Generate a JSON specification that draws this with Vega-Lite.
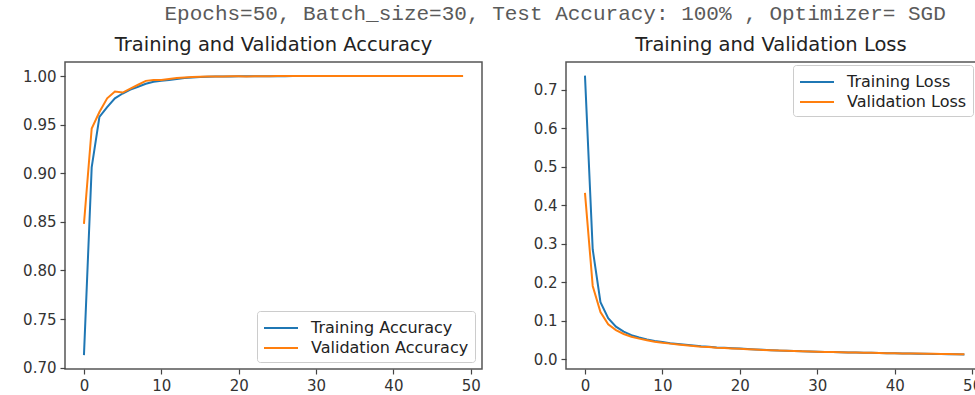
{
  "$schema": "https://vega.github.io/schema/vega-lite/v6.json",
  "padding": {"left": 21, "top": 2, "right": 0, "bottom": 0},
  "background": "white",
  "title": {"text": "Epochs=50, Batch_size=30, Test Accuracy: 100% , Optimizer= SGD", "font": "Liberation Mono", "fontSize": 21, "fontWeight": "normal", "color": "#5a5a5a", "anchor": "middle", "dx": 53, "offset": 10},
  "datasets": {
    "acc": [
      {"epoch":0,"series":"Training Accuracy","value":0.713},{"epoch":1,"series":"Training Accuracy","value":0.906},{"epoch":2,"series":"Training Accuracy","value":0.958},{"epoch":3,"series":"Training Accuracy","value":0.968},{"epoch":4,"series":"Training Accuracy","value":0.977},{"epoch":5,"series":"Training Accuracy","value":0.982},{"epoch":6,"series":"Training Accuracy","value":0.986},{"epoch":7,"series":"Training Accuracy","value":0.989},{"epoch":8,"series":"Training Accuracy","value":0.992},{"epoch":9,"series":"Training Accuracy","value":0.994},
      {"epoch":10,"series":"Training Accuracy","value":0.995},{"epoch":11,"series":"Training Accuracy","value":0.996},{"epoch":12,"series":"Training Accuracy","value":0.997},{"epoch":13,"series":"Training Accuracy","value":0.998},{"epoch":14,"series":"Training Accuracy","value":0.9985},{"epoch":15,"series":"Training Accuracy","value":0.999},{"epoch":16,"series":"Training Accuracy","value":0.9992},{"epoch":17,"series":"Training Accuracy","value":0.9994},{"epoch":18,"series":"Training Accuracy","value":0.9995},{"epoch":19,"series":"Training Accuracy","value":0.9996},
      {"epoch":20,"series":"Training Accuracy","value":0.9997},{"epoch":21,"series":"Training Accuracy","value":0.9998},{"epoch":22,"series":"Training Accuracy","value":0.9998},{"epoch":23,"series":"Training Accuracy","value":0.9998},{"epoch":24,"series":"Training Accuracy","value":0.9998},{"epoch":25,"series":"Training Accuracy","value":0.9998},{"epoch":26,"series":"Training Accuracy","value":0.9998},{"epoch":27,"series":"Training Accuracy","value":0.9999},{"epoch":28,"series":"Training Accuracy","value":0.9999},{"epoch":29,"series":"Training Accuracy","value":0.9999},
      {"epoch":30,"series":"Training Accuracy","value":0.9999},{"epoch":31,"series":"Training Accuracy","value":0.9999},{"epoch":32,"series":"Training Accuracy","value":0.9999},{"epoch":33,"series":"Training Accuracy","value":0.9999},{"epoch":34,"series":"Training Accuracy","value":0.9999},{"epoch":35,"series":"Training Accuracy","value":1.0},{"epoch":36,"series":"Training Accuracy","value":1.0},{"epoch":37,"series":"Training Accuracy","value":1.0},{"epoch":38,"series":"Training Accuracy","value":1.0},{"epoch":39,"series":"Training Accuracy","value":1.0},
      {"epoch":40,"series":"Training Accuracy","value":1.0},{"epoch":41,"series":"Training Accuracy","value":1.0},{"epoch":42,"series":"Training Accuracy","value":1.0},{"epoch":43,"series":"Training Accuracy","value":1.0},{"epoch":44,"series":"Training Accuracy","value":1.0},{"epoch":45,"series":"Training Accuracy","value":1.0},{"epoch":46,"series":"Training Accuracy","value":1.0},{"epoch":47,"series":"Training Accuracy","value":1.0},{"epoch":48,"series":"Training Accuracy","value":1.0},{"epoch":49,"series":"Training Accuracy","value":1.0},
      {"epoch":0,"series":"Validation Accuracy","value":0.848},{"epoch":1,"series":"Validation Accuracy","value":0.946},{"epoch":2,"series":"Validation Accuracy","value":0.963},{"epoch":3,"series":"Validation Accuracy","value":0.977},{"epoch":4,"series":"Validation Accuracy","value":0.984},{"epoch":5,"series":"Validation Accuracy","value":0.983},{"epoch":6,"series":"Validation Accuracy","value":0.987},{"epoch":7,"series":"Validation Accuracy","value":0.991},{"epoch":8,"series":"Validation Accuracy","value":0.995},{"epoch":9,"series":"Validation Accuracy","value":0.996},
      {"epoch":10,"series":"Validation Accuracy","value":0.996},{"epoch":11,"series":"Validation Accuracy","value":0.997},{"epoch":12,"series":"Validation Accuracy","value":0.998},{"epoch":13,"series":"Validation Accuracy","value":0.9985},{"epoch":14,"series":"Validation Accuracy","value":0.999},{"epoch":15,"series":"Validation Accuracy","value":0.9992},{"epoch":16,"series":"Validation Accuracy","value":0.9994},{"epoch":17,"series":"Validation Accuracy","value":0.9995},{"epoch":18,"series":"Validation Accuracy","value":0.9996},{"epoch":19,"series":"Validation Accuracy","value":0.9997},
      {"epoch":20,"series":"Validation Accuracy","value":0.9998},{"epoch":21,"series":"Validation Accuracy","value":0.9996},{"epoch":22,"series":"Validation Accuracy","value":0.9998},{"epoch":23,"series":"Validation Accuracy","value":0.9997},{"epoch":24,"series":"Validation Accuracy","value":0.9998},{"epoch":25,"series":"Validation Accuracy","value":0.9999},{"epoch":26,"series":"Validation Accuracy","value":0.9999},{"epoch":27,"series":"Validation Accuracy","value":0.9999},{"epoch":28,"series":"Validation Accuracy","value":0.9999},{"epoch":29,"series":"Validation Accuracy","value":0.9999},
      {"epoch":30,"series":"Validation Accuracy","value":1.0},{"epoch":31,"series":"Validation Accuracy","value":1.0},{"epoch":32,"series":"Validation Accuracy","value":1.0},{"epoch":33,"series":"Validation Accuracy","value":1.0},{"epoch":34,"series":"Validation Accuracy","value":1.0},{"epoch":35,"series":"Validation Accuracy","value":1.0},{"epoch":36,"series":"Validation Accuracy","value":1.0},{"epoch":37,"series":"Validation Accuracy","value":1.0},{"epoch":38,"series":"Validation Accuracy","value":1.0},{"epoch":39,"series":"Validation Accuracy","value":1.0},
      {"epoch":40,"series":"Validation Accuracy","value":1.0},{"epoch":41,"series":"Validation Accuracy","value":1.0},{"epoch":42,"series":"Validation Accuracy","value":1.0},{"epoch":43,"series":"Validation Accuracy","value":1.0},{"epoch":44,"series":"Validation Accuracy","value":1.0},{"epoch":45,"series":"Validation Accuracy","value":1.0},{"epoch":46,"series":"Validation Accuracy","value":1.0},{"epoch":47,"series":"Validation Accuracy","value":1.0},{"epoch":48,"series":"Validation Accuracy","value":1.0},{"epoch":49,"series":"Validation Accuracy","value":1.0}
    ],
    "loss": [
      {"epoch":0,"series":"Training Loss","value":0.737},{"epoch":1,"series":"Training Loss","value":0.285},{"epoch":2,"series":"Training Loss","value":0.148},{"epoch":3,"series":"Training Loss","value":0.106},{"epoch":4,"series":"Training Loss","value":0.084},{"epoch":5,"series":"Training Loss","value":0.071},{"epoch":6,"series":"Training Loss","value":0.062},{"epoch":7,"series":"Training Loss","value":0.056},{"epoch":8,"series":"Training Loss","value":0.051},{"epoch":9,"series":"Training Loss","value":0.047},
      {"epoch":10,"series":"Training Loss","value":0.044},{"epoch":11,"series":"Training Loss","value":0.041},{"epoch":12,"series":"Training Loss","value":0.039},{"epoch":13,"series":"Training Loss","value":0.037},{"epoch":14,"series":"Training Loss","value":0.035},{"epoch":15,"series":"Training Loss","value":0.033},{"epoch":16,"series":"Training Loss","value":0.032},{"epoch":17,"series":"Training Loss","value":0.030},{"epoch":18,"series":"Training Loss","value":0.029},{"epoch":19,"series":"Training Loss","value":0.028},
      {"epoch":20,"series":"Training Loss","value":0.027},{"epoch":21,"series":"Training Loss","value":0.026},{"epoch":22,"series":"Training Loss","value":0.025},{"epoch":23,"series":"Training Loss","value":0.024},{"epoch":24,"series":"Training Loss","value":0.023},{"epoch":25,"series":"Training Loss","value":0.022},{"epoch":26,"series":"Training Loss","value":0.0215},{"epoch":27,"series":"Training Loss","value":0.021},{"epoch":28,"series":"Training Loss","value":0.020},{"epoch":29,"series":"Training Loss","value":0.0195},
      {"epoch":30,"series":"Training Loss","value":0.019},{"epoch":31,"series":"Training Loss","value":0.0185},{"epoch":32,"series":"Training Loss","value":0.018},{"epoch":33,"series":"Training Loss","value":0.0175},{"epoch":34,"series":"Training Loss","value":0.017},{"epoch":35,"series":"Training Loss","value":0.0168},{"epoch":36,"series":"Training Loss","value":0.0163},{"epoch":37,"series":"Training Loss","value":0.016},{"epoch":38,"series":"Training Loss","value":0.0155},{"epoch":39,"series":"Training Loss","value":0.015},
      {"epoch":40,"series":"Training Loss","value":0.0148},{"epoch":41,"series":"Training Loss","value":0.0145},{"epoch":42,"series":"Training Loss","value":0.014},{"epoch":43,"series":"Training Loss","value":0.0138},{"epoch":44,"series":"Training Loss","value":0.0135},{"epoch":45,"series":"Training Loss","value":0.013},{"epoch":46,"series":"Training Loss","value":0.0128},{"epoch":47,"series":"Training Loss","value":0.0125},{"epoch":48,"series":"Training Loss","value":0.0122},{"epoch":49,"series":"Training Loss","value":0.012},
      {"epoch":0,"series":"Validation Loss","value":0.432},{"epoch":1,"series":"Validation Loss","value":0.19},{"epoch":2,"series":"Validation Loss","value":0.122},{"epoch":3,"series":"Validation Loss","value":0.09},{"epoch":4,"series":"Validation Loss","value":0.075},{"epoch":5,"series":"Validation Loss","value":0.065},{"epoch":6,"series":"Validation Loss","value":0.058},{"epoch":7,"series":"Validation Loss","value":0.053},{"epoch":8,"series":"Validation Loss","value":0.049},{"epoch":9,"series":"Validation Loss","value":0.045},
      {"epoch":10,"series":"Validation Loss","value":0.042},{"epoch":11,"series":"Validation Loss","value":0.040},{"epoch":12,"series":"Validation Loss","value":0.038},{"epoch":13,"series":"Validation Loss","value":0.036},{"epoch":14,"series":"Validation Loss","value":0.034},{"epoch":15,"series":"Validation Loss","value":0.032},{"epoch":16,"series":"Validation Loss","value":0.031},{"epoch":17,"series":"Validation Loss","value":0.0295},{"epoch":18,"series":"Validation Loss","value":0.0285},{"epoch":19,"series":"Validation Loss","value":0.0275},
      {"epoch":20,"series":"Validation Loss","value":0.0265},{"epoch":21,"series":"Validation Loss","value":0.0255},{"epoch":22,"series":"Validation Loss","value":0.0245},{"epoch":23,"series":"Validation Loss","value":0.0235},{"epoch":24,"series":"Validation Loss","value":0.0228},{"epoch":25,"series":"Validation Loss","value":0.022},{"epoch":26,"series":"Validation Loss","value":0.0213},{"epoch":27,"series":"Validation Loss","value":0.0207},{"epoch":28,"series":"Validation Loss","value":0.0201},{"epoch":29,"series":"Validation Loss","value":0.0195},
      {"epoch":30,"series":"Validation Loss","value":0.019},{"epoch":31,"series":"Validation Loss","value":0.0185},{"epoch":32,"series":"Validation Loss","value":0.018},{"epoch":33,"series":"Validation Loss","value":0.0176},{"epoch":34,"series":"Validation Loss","value":0.0172},{"epoch":35,"series":"Validation Loss","value":0.0168},{"epoch":36,"series":"Validation Loss","value":0.0164},{"epoch":37,"series":"Validation Loss","value":0.016},{"epoch":38,"series":"Validation Loss","value":0.0156},{"epoch":39,"series":"Validation Loss","value":0.0152},
      {"epoch":40,"series":"Validation Loss","value":0.0149},{"epoch":41,"series":"Validation Loss","value":0.0146},{"epoch":42,"series":"Validation Loss","value":0.0143},{"epoch":43,"series":"Validation Loss","value":0.014},{"epoch":44,"series":"Validation Loss","value":0.0137},{"epoch":45,"series":"Validation Loss","value":0.0134},{"epoch":46,"series":"Validation Loss","value":0.0131},{"epoch":47,"series":"Validation Loss","value":0.0128},{"epoch":48,"series":"Validation Loss","value":0.0125},{"epoch":49,"series":"Validation Loss","value":0.0122}
    ]
  },
  "spacing": 49,
  "hconcat": [
    {
      "width": 417,
      "height": 307,
      "title": {"text": "Training and Validation Accuracy"},
      "data": {"name": "acc"},
      "mark": {"type": "line", "strokeWidth": 2},
      "encoding": {
        "x": {"field": "epoch", "type": "quantitative", "scale": {"domain": [-2.45, 51.45], "nice": false, "zero": false}, "axis": {"values": [0, 10, 20, 30, 40, 50]}},
        "y": {"field": "value", "type": "quantitative", "scale": {"domain": [0.6987, 1.0144], "nice": false, "zero": false}, "axis": {"values": [0.7, 0.75, 0.8, 0.85, 0.9, 0.95, 1.0], "format": ".2f"}},
        "color": {"field": "series", "type": "nominal", "scale": {"domain": ["Training Accuracy", "Validation Accuracy"], "range": ["#1f77b4", "#ff7f0e"]}, "legend": {"orient": "bottom-right", "offset": 7}}
      }
    },
    {
      "width": 410,
      "height": 307,
      "title": {"text": "Training and Validation Loss"},
      "data": {"name": "loss"},
      "mark": {"type": "line", "strokeWidth": 2},
      "encoding": {
        "x": {"field": "epoch", "type": "quantitative", "scale": {"domain": [-2.45, 50.5], "nice": false, "zero": false}, "axis": {"values": [0, 10, 20, 30, 40, 50]}},
        "y": {"field": "value", "type": "quantitative", "scale": {"domain": [-0.026, 0.7725], "nice": false, "zero": false}, "axis": {"values": [0, 0.1, 0.2, 0.3, 0.4, 0.5, 0.6, 0.7], "format": ".1f"}},
        "color": {"field": "series", "type": "nominal", "scale": {"domain": ["Training Loss", "Validation Loss"], "range": ["#1f77b4", "#ff7f0e"]}, "legend": {"orient": "top-right", "offset": 3}}
      }
    }
  ],
  "resolve": {"scale": {"color": "independent", "x": "independent", "y": "independent"}, "legend": {"color": "independent"}},
  "config": {
    "font": "DejaVu Sans",
    "view": {"stroke": "#555", "strokeWidth": 1.5},
    "axis": {"grid": false, "domain": false, "title": null, "tickColor": "#444", "tickSize": 5, "tickWidth": 1.2, "labelFontSize": 15, "labelColor": "#333", "labelFont": "DejaVu Sans", "labelPadding": 4},
    "title": {"fontSize": 19.5, "fontWeight": "normal", "color": "#222", "font": "DejaVu Sans", "offset": 7},
    "legend": {"title": null, "padding": 6, "strokeColor": "#ccc", "fillColor": "white", "cornerRadius": 3, "symbolType": "M-1,0H2.4", "symbolStrokeWidth": 2, "symbolSize": 400, "labelFontSize": 16, "labelColor": "#222", "labelOffset": 26, "rowPadding": 1}
  }
}
